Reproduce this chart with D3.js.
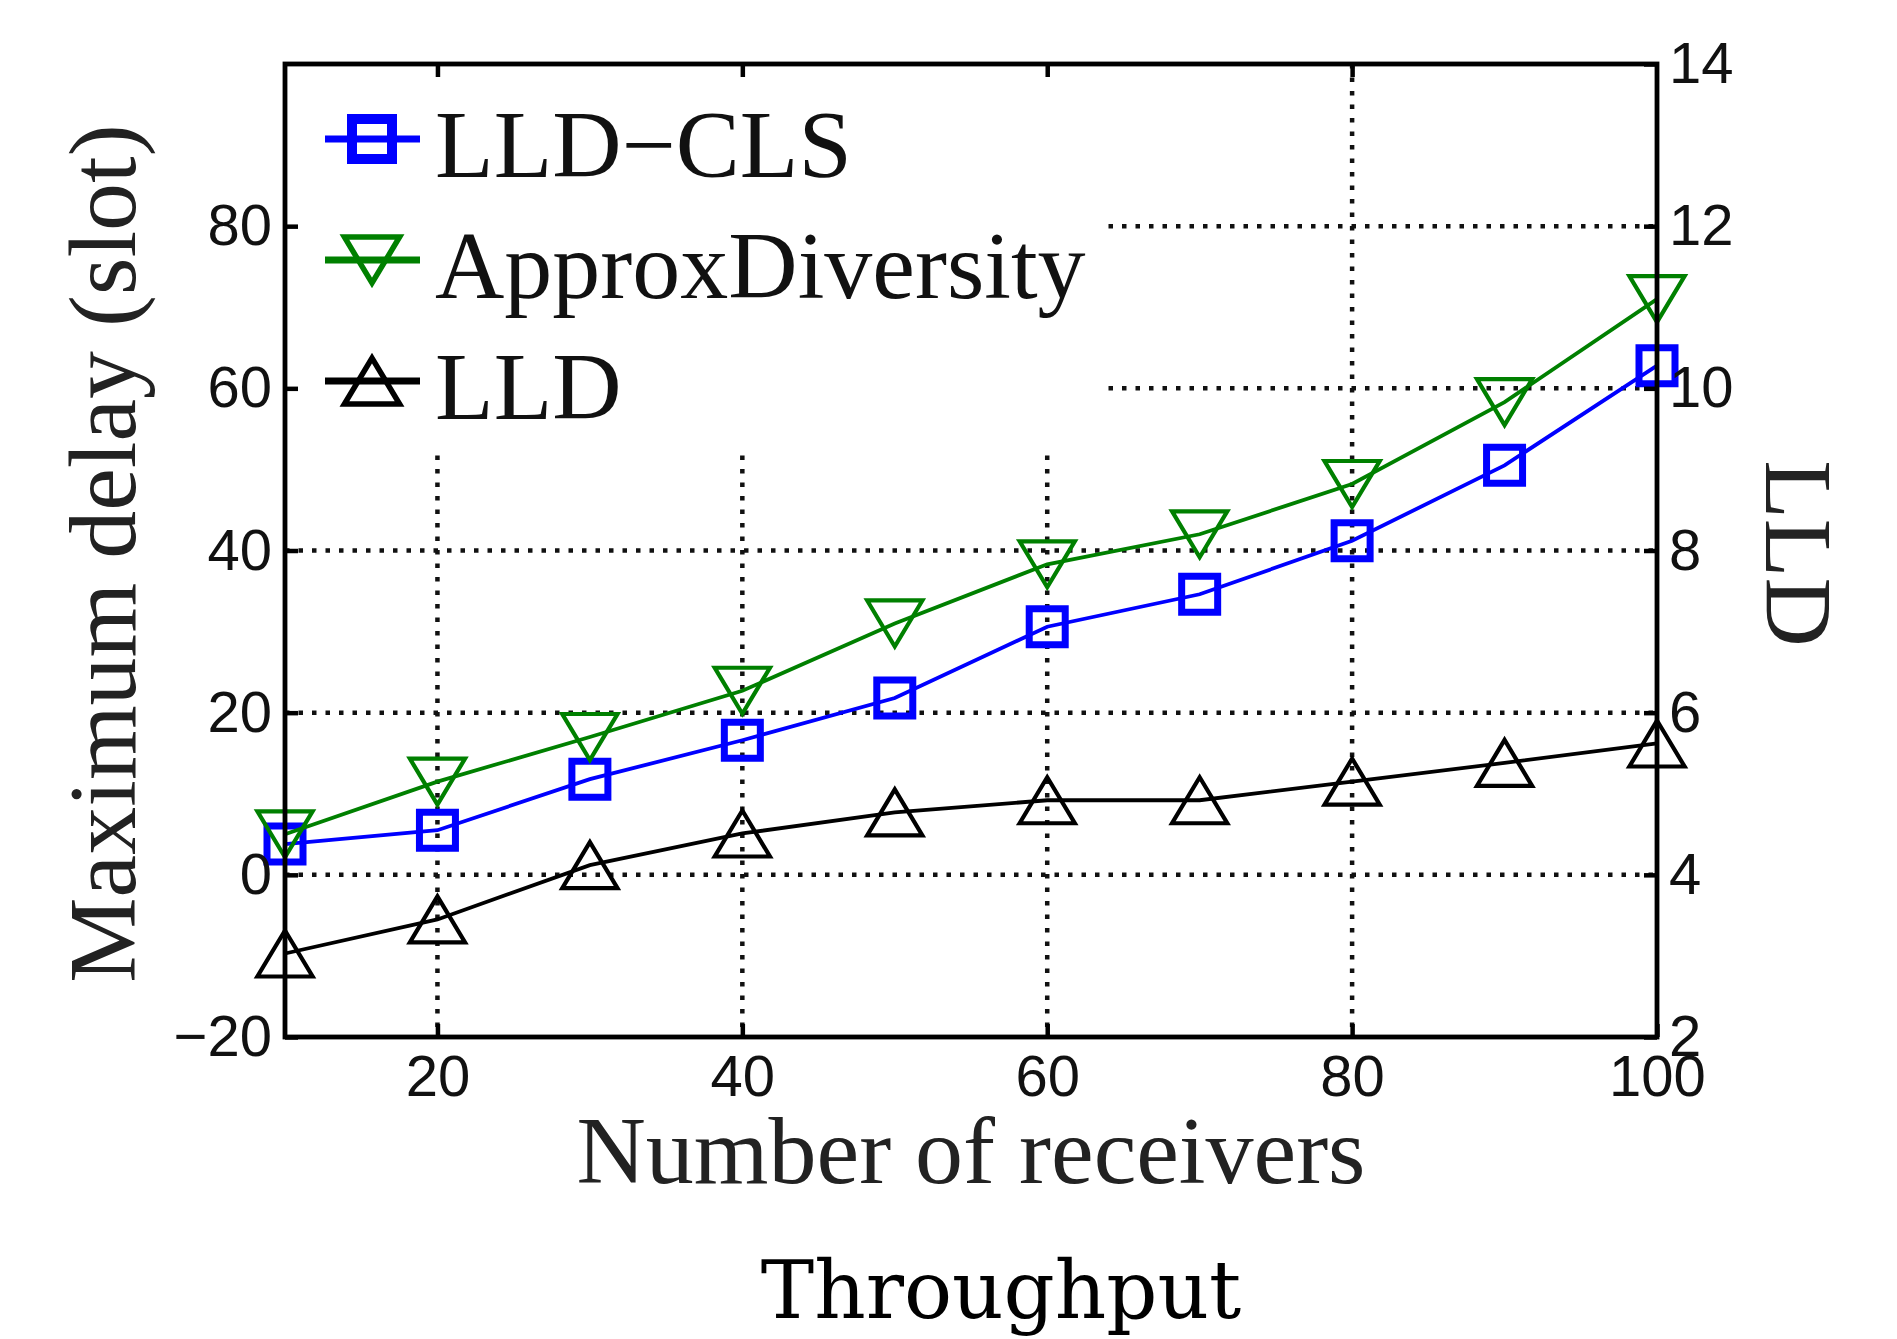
<!DOCTYPE html>
<html>
<head>
<meta charset="utf-8">
<script src="https://cdn.jsdelivr.net/npm/d3@7"></script>
<style>
  body { margin: 0; background: #fff; }
</style>
</head>
<body>
<script>
// data
var receivers = [10, 20, 30, 40, 50, 60, 70, 80, 90, 100];
var lldCls = [3.8, 5.5, 11.8, 16.6, 21.8, 30.6, 34.6, 41.2, 50.5, 62.8];
var approxDiversity = [5, 11.5, 17, 22.7, 31, 38.3, 42, 48.2, 58.3, 71];
var lld = [3.03, 3.45, 4.12, 4.51, 4.77, 4.92, 4.92, 5.15, 5.38, 5.62]; // right axis
var xTicks = [20, 40, 60, 80, 100];
var leftTicks = [-20, 0, 20, 40, 60, 80];
var rightTicks = [2, 4, 6, 8, 10, 12, 14];
var gridX = [20, 40, 60, 80];
var gridY = [0, 20, 40, 60, 80];
var legendNames = ["LLD\u2212CLS", "ApproxDiversity", "LLD"];

var W = 1897, H = 1339;
// plot box edges (named so they don't clash with window.top)
var plotL = 285, plotR = 1657, plotT = 64, plotB = 1037;

var svg = d3.select("body").append("svg")
            .attr("width", W)
            .attr("height", H);

var x = d3.scaleLinear().domain([10, 100]).range([plotL, plotR]);
var yL = d3.scaleLinear().domain([-20, 100]).range([plotB, plotT]);
var yR = d3.scaleLinear().domain([2, 14]).range([plotB, plotT]);

// dotted grid
var grid = svg.append("g")
              .attr("stroke", "#111")
              .attr("stroke-width", 4.5)
              .attr("stroke-dasharray", "4.5,9");
grid.selectAll("line.gx").data(gridX).enter().append("line")
    .attr("x1", d => x(d)).attr("x2", d => x(d))
    .attr("y1", plotT).attr("y2", plotB);
grid.selectAll("line.gy").data(gridY).enter().append("line")
    .attr("x1", plotL).attr("x2", plotR)
    .attr("y1", d => yL(d)).attr("y2", d => yL(d));

// legend background hides the grid under it
svg.append("rect")
   .attr("x", plotL + 2).attr("y", plotT + 2)
   .attr("width", 1098 - plotL).attr("height", 448 - plotT)
   .attr("fill", "#fff");

// series lines
var seriesList = [
  {vals: lldCls, y: yL, color: "#0000ff", marker: "square"},
  {vals: approxDiversity, y: yL, color: "#008000", marker: "down"},
  {vals: lld, y: yR, color: "#000000", marker: "up"}
];

function markerPath(type, s) {
  if (type === "square") {
    return "M" + (-s/2) + "," + (-s/2) + "h" + s + "v" + s + "h" + (-s) + "Z";
  }
  var w = s * 1.2, h = s;
  if (type === "down") {
    return "M" + (-w/2) + "," + (-h/2) + "L" + (w/2) + "," + (-h/2) + "L0," + (h/2) + "Z";
  }
  return "M" + (-w/2) + "," + (h/2) + "L" + (w/2) + "," + (h/2) + "L0," + (-h/2) + "Z";
}

seriesList.forEach(function(s) {
  var pts = receivers.map((r, i) => [x(r), s.y(s.vals[i])]);
  svg.append("path")
     .attr("d", d3.line()(pts))
     .attr("fill", "none")
     .attr("stroke", s.color)
     .attr("stroke-width", 3.8);
  svg.append("g").selectAll("path").data(pts).enter().append("path")
     .attr("transform", d => "translate(" + d[0] + "," + d[1] + ")")
     .attr("d", markerPath(s.marker, s.marker === "square" ? 36 : 46))
     .attr("fill", "none")
     .attr("stroke", s.color)
     .attr("stroke-width", s.marker === "square" ? 7 : 4.2);
});

// axes with inward ticks
var tickFont = "'Liberation Sans', Arial, sans-serif";
function styleAxis(g) {
  g.select(".domain").remove();
  g.selectAll(".tick line").attr("stroke", "#000").attr("stroke-width", 4.5);
  g.selectAll(".tick text").attr("font-family", tickFont).attr("font-size", 58).attr("fill", "#111");
}
svg.append("g").attr("transform", "translate(0," + plotB + ")")
   .call(d3.axisBottom(x).tickValues(xTicks).tickSize(-13).tickPadding(18))
   .call(styleAxis);
svg.append("g").attr("transform", "translate(0," + plotT + ")")
   .call(d3.axisTop(x).tickValues(gridX).tickSize(-13).tickFormat(""))
   .call(styleAxis);
svg.append("g").attr("transform", "translate(" + plotL + ",0)")
   .call(d3.axisLeft(yL).tickValues(leftTicks).tickSize(-13).tickPadding(13))
   .call(styleAxis);
svg.append("g").attr("transform", "translate(" + plotR + ",0)")
   .call(d3.axisRight(yR).tickValues(rightTicks).tickSize(-13).tickPadding(12))
   .call(styleAxis);

// box
svg.append("rect")
   .attr("x", plotL).attr("y", plotT)
   .attr("width", plotR - plotL).attr("height", plotB - plotT)
   .attr("fill", "none")
   .attr("stroke", "#000")
   .attr("stroke-width", 4.8);

// legend
var serif = "'Liberation Serif', 'Times New Roman', serif";
var legend = svg.append("g");
seriesList.forEach(function(s, i) {
  var cy = 139 + i * 121;
  legend.append("line")
        .attr("x1", 325).attr("x2", 420)
        .attr("y1", cy).attr("y2", cy)
        .attr("stroke", s.color).attr("stroke-width", 7);
  legend.append("path")
        .attr("transform", "translate(372," + cy + ")")
        .attr("d", markerPath(s.marker, s.marker === "square" ? 40 : 46))
        .attr("fill", "none")
        .attr("stroke", s.color)
        .attr("stroke-width", s.marker === "square" ? 10 : 5.5);
  legend.append("text")
        .attr("x", 435).attr("y", cy + 38)
        .attr("font-family", serif).attr("font-size", 96)
        .attr("fill", "#111")
        .text(legendNames[i]);
});

// axis titles
svg.append("text")
   .attr("transform", "translate(135," + ((plotT + plotB) / 2 + 3) + ") rotate(-90)")
   .attr("text-anchor", "middle")
   .attr("font-family", serif).attr("font-size", 96).attr("fill", "#222")
   .text("Maximum delay (slot)");
svg.append("text")
   .attr("transform", "translate(1766," + ((plotT + plotB) / 2 + 3) + ") rotate(90)")
   .attr("text-anchor", "middle")
   .attr("font-family", serif).attr("font-size", 96).attr("fill", "#222")
   .text("LLD");
svg.append("text")
   .attr("x", (plotL + plotR) / 2).attr("y", 1183)
   .attr("text-anchor", "middle")
   .attr("font-family", serif).attr("font-size", 96).attr("fill", "#222")
   .text("Number of receivers");

// caption under the figure
svg.append("text")
   .attr("x", 1001).attr("y", 1318)
   .attr("text-anchor", "middle")
   .attr("font-family", "'DejaVu Serif', serif").attr("font-size", 80).attr("fill", "#000")
   .text("Throughput");
</script>
</body>
</html>
